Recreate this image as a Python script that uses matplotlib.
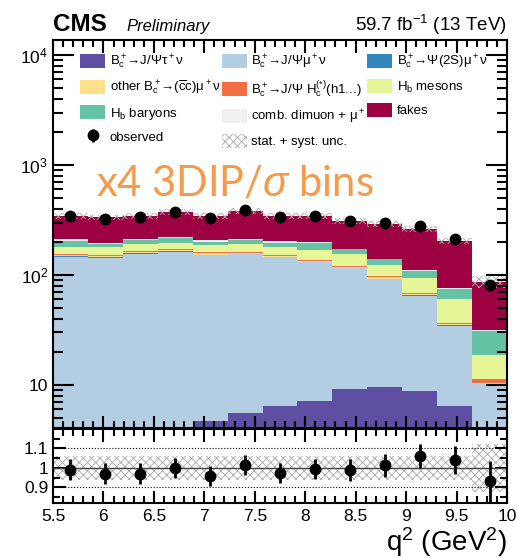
import numpy as np
import matplotlib
matplotlib.use('Agg')
import matplotlib.pyplot as plt
from matplotlib.patches import Patch
from matplotlib.ticker import FixedLocator, MultipleLocator, NullFormatter

plt.rcParams['font.family'] = ['Liberation Sans', 'DejaVu Sans']
plt.rcParams['mathtext.fontset'] = 'custom'
plt.rcParams['mathtext.rm'] = 'Liberation Sans'
plt.rcParams['mathtext.it'] = 'Liberation Sans:italic'
plt.rcParams['mathtext.bf'] = 'Liberation Sans:bold'
plt.rcParams['mathtext.default'] = 'regular'
plt.rcParams['hatch.linewidth'] = 0.6

# q2 binning (13 equal bins)
q2_edges = np.linspace(5.5, 10.0, 14)

# expected yields per bin, stacked bottom to top
tau_nu = [2.5, 3.0, 3.4, 3.8, 4.7, 5.5, 6.4, 7.1, 9.2, 9.5, 8.8, 6.4, 3.5]
jpsi_mu_nu = [144.1, 140.6, 152.6, 159.2, 147.3, 148.5, 138.6, 122.9, 105.8, 82.5, 56.2, 28.0, 6.7]
psi2s_mu_nu = [1.4, 1.3, 1.4, 1.4, 1.4, 1.4, 1.2, 1.0, 0.9, 0.8, 0.5, 0.4, 0.1]
other_cc = [4.2, 3.8, 4.0, 4.0, 4.0, 4.0, 3.6, 3.2, 2.7, 2.2, 1.6, 1.0, 0.2]
jpsi_hc = [3.8, 3.3, 3.6, 3.6, 3.6, 3.6, 3.2, 2.8, 2.4, 2.0, 1.4, 1.0, 0.8]
hb_mesons = [25, 27, 25, 25, 26.5, 28, 28, 32, 33, 26, 26, 23.7, 7.4]
hb_baryons = [24, 12, 18, 20, 13.5, 18, 16, 25, 17, 16, 14.5, 14.1, 12.3]
comb_dimuon = [6, 3, 6, 6, 5, 5, 5, 4, 3, 2, 1.5, 0.9, 0.3]
fakes = [135, 140, 132, 148, 138, 171, 144, 148, 136, 150, 151.5, 128.5, 55.7]

observed = [343, 324, 336, 371, 330, 391, 337, 344, 307, 295, 278, 212, 81]
# relative stat. + syst. uncertainty on the total prediction
unc_rel = [0.062, 0.062, 0.062, 0.062, 0.062, 0.062, 0.062, 0.062, 0.062, 0.062, 0.062, 0.062, 0.125]

arrow = r'$\!\!\rightarrow\!$'
labels = [
    'B$_c^+$' + arrow + 'J/Ψτ$^+$ν',
    'B$_c^+$' + arrow + 'J/Ψμ$^+$ν',
    'B$_c^+$' + arrow + 'Ψ(2S)μ$^+$ν',
    'other B$_c^+$' + arrow + r'($\overline{c}$c)μ$^+$ν',
    'B$_c^+$' + arrow + 'J/Ψ H$_c^{(*)}$(h1...)',
    'H$_b$ mesons',
    'H$_b$ baryons',
    'comb. dimuon + μ$^+$',
    'fakes',
]
colors = ['#5e4fa2', '#b3cde3', '#3288bd', '#fee08b', '#f46d43',
          '#e6f598', '#66c2a5', '#f0f0f0', '#9e0142']
stack = [tau_nu, jpsi_mu_nu, psi2s_mu_nu, other_cc, jpsi_hc,
         hb_mesons, hb_baryons, comb_dimuon, fakes]

widths = np.diff(q2_edges)
centers = q2_edges[:-1] + widths / 2
obs = np.array(observed, dtype=float)
unc = np.array(unc_rel)

fig = plt.figure(figsize=(5.18, 5.58), dpi=100)
ax = fig.add_axes([0.1023, 0.2330, 0.8764, 0.6953])
rax = fig.add_axes([0.1023, 0.0986, 0.8764, 0.1326])

bottom = np.zeros(len(centers))
for vals, col in zip(stack, colors):
    ax.bar(q2_edges[:-1], vals, width=widths, bottom=bottom, align='edge',
           color=col, linewidth=0)
    bottom += np.array(vals)
total = bottom

ax.bar(q2_edges[:-1], 2 * unc * total, width=widths, bottom=total * (1 - unc),
       align='edge', fill=False, hatch='xxxx', edgecolor='#a8a8a8', linewidth=0)
eb = ax.errorbar(centers, obs, yerr=np.sqrt(obs), fmt='o', color='black',
                 ms=7.5, elinewidth=2, capsize=0)

ax.set_yscale('log')
ax.set_xlim(5.5, 10.0)
ax.set_ylim(4.06, 1.37e4)
ax.yaxis.set_major_locator(FixedLocator([10, 100, 1000, 10000]))
ax.set_yticklabels(['10', '10$^2$', '10$^3$', '10$^4$'])
ax.yaxis.set_minor_locator(FixedLocator([m * 10 ** e for e in range(0, 5) for m in range(2, 10)]))
ax.yaxis.set_minor_formatter(NullFormatter())
ax.xaxis.set_major_locator(MultipleLocator(0.5))
ax.xaxis.set_minor_locator(MultipleLocator(0.1))
ax.tick_params(axis='x', labelbottom=False)

for a in (ax, rax):
    a.tick_params(which='both', direction='in', top=True, right=True, labelsize=12.5, width=1.5)
    a.tick_params(which='major', length=9)
    a.tick_params(which='minor', length=5)
    for sp in a.spines.values():
        sp.set_linewidth(1.5)
ax.tick_params(axis='y', which='major', length=15)
ax.tick_params(axis='y', which='minor', length=7)

# ratio panel
ratio = obs / total
rax.bar(q2_edges[:-1], 2 * unc, width=widths, bottom=1 - unc, align='edge',
        fill=False, hatch='xxxx', edgecolor='#a8a8a8', linewidth=0)
rax.axhline(1.0, color='#444444', lw=1)
rax.axhline(1.1, color='black', lw=0.8, ls=':')
rax.axhline(0.9, color='black', lw=0.8, ls=':')
rax.errorbar(centers, ratio, yerr=np.sqrt(obs) / total, fmt='o', color='black',
             ms=7.5, elinewidth=2, capsize=0)
rax.set_xlim(5.5, 10.0)
rax.set_ylim(0.82, 1.2)
rax.yaxis.set_major_locator(FixedLocator([0.9, 1.0, 1.1]))
rax.set_yticklabels(['0.9', '1', '1.1'])
rax.yaxis.set_minor_locator(FixedLocator([0.85, 0.95, 1.05, 1.15]))
rax.xaxis.set_minor_locator(MultipleLocator(0.1))
rax.set_xticks(np.arange(5.5, 10.01, 0.5))
rax.set_xticklabels(['5.5', '6', '6.5', '7', '7.5', '8', '8.5', '9', '9.5', '10'])
rax.tick_params(axis='x', pad=4)

fig.text(0.9788, 1 - 551 / 558, 'q$^2$ (GeV$^2$)', ha='right', va='baseline', fontsize=20)

# legend, filled column by column
handles = [Patch(color=c, linewidth=0) for c in colors]
unc_handle = Patch(facecolor='white', hatch='xxxx', edgecolor='#a8a8a8', linewidth=0)
order_h = [handles[0], handles[3], handles[6], eb,
           handles[1], handles[4], handles[7], unc_handle,
           handles[2], handles[5], handles[8]]
order_l = [labels[0], labels[3], labels[6], 'observed',
           labels[1], labels[4], labels[7], 'stat. + syst. unc.',
           labels[2], labels[5], labels[8]]
ax.legend(order_h, order_l, ncol=3, loc='upper left', bbox_to_anchor=(0.0595, 0.967),
          frameon=False, fontsize=9.5, borderpad=0, borderaxespad=0,
          handlelength=1.9, handleheight=1.25, handletextpad=0.35,
          labelspacing=0.6, columnspacing=0.1)

ax.text(0.095, 0.631, r'x4 3DIP/$\mathit{\sigma}$ bins', transform=ax.transAxes,
        fontsize=30, color='#f59a4a', family=['Lato', 'DejaVu Sans'], va='center')

fig.text(0.1023, 1 - 31 / 558, 'CMS', fontsize=17.5, fontweight='bold', va='baseline')
fig.text(0.245, 1 - 31 / 558, 'Preliminary', fontsize=12, style='italic', va='baseline')
fig.text(0.9788, 1 - 31 / 558, '59.7 fb$^{-1}$ (13 TeV)', fontsize=13.5, ha='right', va='baseline')

fig.savefig('out.png', dpi=100)
